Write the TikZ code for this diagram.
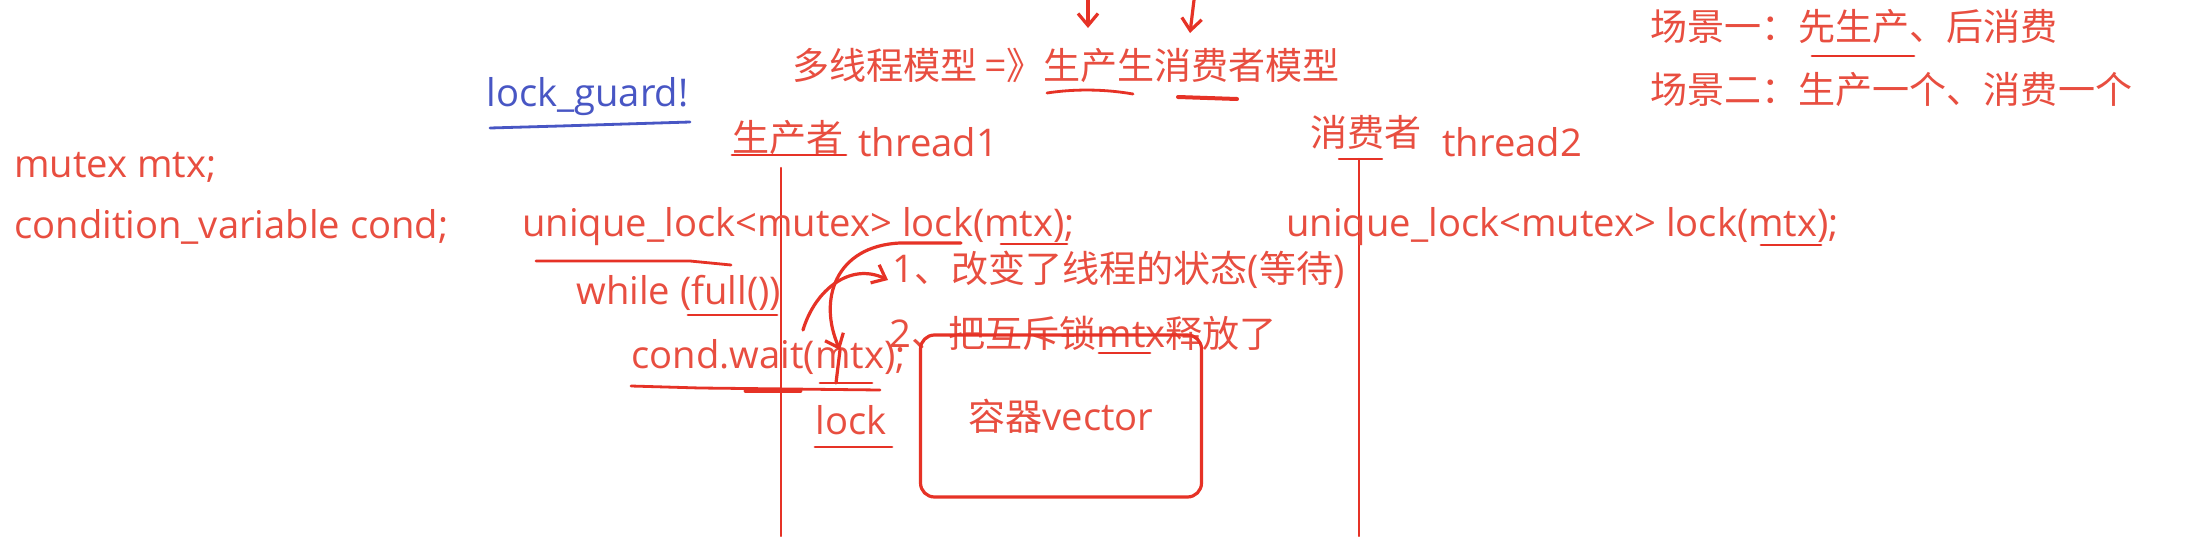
\documentclass[tikz,border=0pt]{standalone}
\usepackage{fontspec}
\setmainfont{Open Sans}
\newfontfamily\hanzi[Scale=0.97]{Noto Sans CJK SC}
\usetikzlibrary{arrows.meta}
\definecolor{ink}{RGB}{232,78,64}
\definecolor{pen}{RGB}{230,50,38}
\definecolor{guardblue}{RGB}{72,86,196}

\begin{document}
\begin{tikzpicture}[
  x=0.5pt, y=-0.5pt,
  font=\fontsize{19.1}{22}\selectfont,
  txt/.style={anchor=west, inner sep=0pt, text=ink},
  stroke/.style={draw=pen, line width=1.6pt, line cap=round, line join=round},
  uline/.style={stroke, line width=1.4pt},
  barb/.style={stroke, -{Straight Barb[length=6pt, width=10pt]}},
  vecbox/.style={stroke, rounded corners=7pt, minimum width=140.5pt,
                 minimum height=81pt, text=ink, inner sep=0pt}]
\useasboundingbox[fill=white] (0,0) rectangle (2196,536);

% scenarios, top right
\node[txt] (sc1) at (1650,27) {\hanzi 场景一：先生产、后消费};
\node[txt] (sc2) at (1650,90) {\hanzi 场景二：生产一个、消费一个};
\draw[uline] (1812,56) -- (1914,56);

% title with the two arrows
\node[txt] (title) at (792,65) {\hanzi 多线程模型 =》生产生消费者模型};
\coordinate (a1) at (1088,0);
\coordinate (a2) at (1194,0);
\draw[barb] (a1) -- (1088,28);
\draw[barb] (a2) -- (1190,33);
\draw[uline] (1047,93) .. controls (1080,88) and (1110,90) .. (1133,94);
\draw[uline, line width=2pt] (1178,97) -- (1237,99);

% globals
\node[txt] (mtx) at (14,167) {mutex mtx;};
\node[txt] (cv) at (14,227) {condition\_variable cond;};
\node[txt, text=guardblue] (guard) at (486,97) {lock\_guard!};
\draw[uline, draw=guardblue] (490,128) -- (560,126) -- (690,122);

% producer
\node[txt] (prod) at (732,138) {\hanzi 生产者};
\node[txt] (t1) at (858,142) {thread1};
\draw[uline] (732,155) -- (846,155);
\coordinate (ptop) at (781,168);
\draw[stroke, line width=1.2pt] (ptop) -- (781,536);
\node[txt] (plock) at (522,227) {unique\_lock<mutex> lock(mtx);};
\draw[uline] (536,261) -- (690,261) -- (731,265);
\draw[uline] (1001,244) -- (1067,244);
\node[txt] (wh) at (576,293) {while (full())};
\draw[uline] (688,315) -- (777,315);
\node[txt] (wait) at (631,357) {cond.wait(mtx);};
\draw[uline] (631,386) -- (700,388) -- (880,390);
\draw[uline, line width=2.4pt] (746,391) -- (800,391);
\node[txt] (lk) at (815,420) {lock};
\draw[uline] (815,447) -- (892,447);

% what wait does
\node[txt] (step1) at (892,270) {1{\hanzi 、改变了线程的状态}({\hanzi 等待})};
\node[txt] (step2) at (889,333) {2{\hanzi 、把互斥锁}mtx{\hanzi 释放了}};
\draw[uline] (1099,353) -- (1150,353);
\draw[barb] (961,243) -- (900,243) .. controls (835,246) and (818,300) .. (840,350);
\draw[stroke] (840,350) -- (836,383);
\draw[uline] (820,383) -- (872,383);
\draw[barb] (803,330) .. controls (815,290) and (850,262) .. (888,280);

% container
\node[vecbox] (vec) at (1061,416) {{\hanzi 容器}vector};

% consumer
\node[txt] (cons) at (1310,132) {\hanzi 消费者};
\node[txt] (t2) at (1442,142) {thread2};
\coordinate (ctop) at (1359,159);
\draw[stroke, line width=1.2pt] (1339,159) -- (1382,159);
\draw[stroke, line width=1.2pt] (ctop) -- (1359,536);
\node[txt] (clock) at (1286,227) {unique\_lock<mutex> lock(mtx);};
\draw[uline] (1761,245) -- (1821,245);
\end{tikzpicture}
\end{document}
